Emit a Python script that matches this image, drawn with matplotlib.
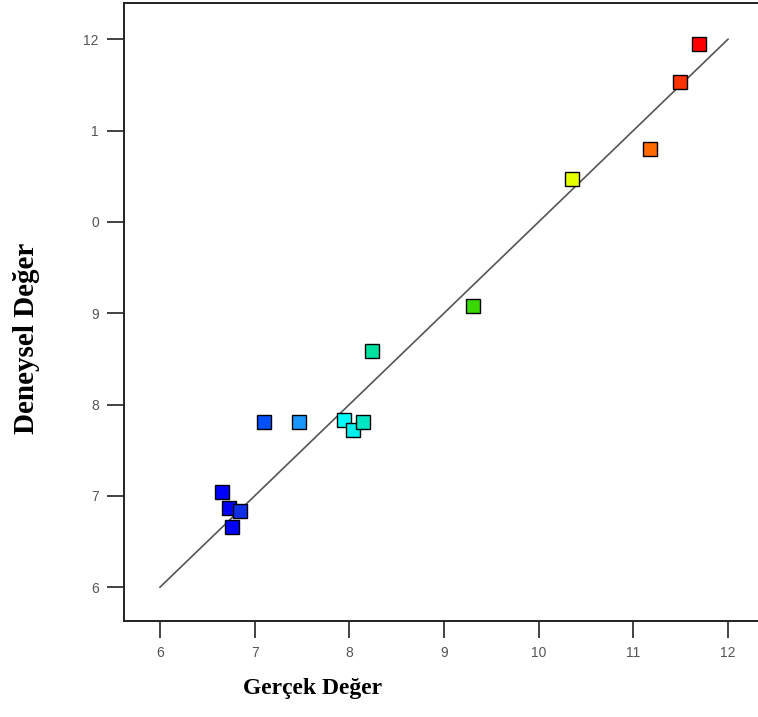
import matplotlib
matplotlib.use("Agg")
from matplotlib import pyplot as plt

gercek = [6.655, 6.73, 6.845, 6.76, 7.10, 7.47, 7.94, 8.04, 8.14, 8.24, 9.31, 10.35, 11.18, 11.49, 11.69]
deneysel = [7.04, 6.865, 6.83, 6.66, 7.81, 7.81, 7.83, 7.72, 7.81, 8.59, 9.08, 10.47, 10.80, 11.53, 11.95]
renkler = ["#0000ff", "#0000f5", "#1030e8", "#0000ff", "#0050ff", "#1a96ff", "#00ffff", "#00f0ee",
           "#00e6c4", "#00e0a0", "#38d800", "#e6ff00", "#ff6a00", "#ff3300", "#ff0000"]

tick_vals = [6, 7, 8, 9, 10, 11, 12]
x_tick_labels = ["6", "7", "8", "9", "10", "11", "12"]
y_tick_labels = ["6", "7", "8", "9", "0", "1", "12"]  # clipped as in the original
ref_line = [6, 12]

fig = plt.figure(figsize=(7.58, 7.17), dpi=100)
ax = fig.add_axes([124 / 758, 1 - 621 / 717, 1 - 124 / 758, 618 / 717])

ax.plot(ref_line, ref_line, color="#555555", lw=1.2, zorder=1)
for x, y, c in zip(gercek, deneysel, renkler):
    ax.plot(x, y, marker="s", markersize=9.5, color=c, markeredgecolor="black",
            markeredgewidth=1.0, linestyle="none", zorder=3)

ax.set_xlim(5.62, 5.62 + 634 / 94.67)
ax.set_ylim(5.63, 5.63 + 618 / 91.33)
ax.set_xticks(tick_vals)
ax.set_xticklabels(x_tick_labels)
ax.set_yticks(tick_vals)
ax.set_yticklabels(y_tick_labels)
ax.tick_params(direction="out", length=12, width=1.2, color="#222222", pad=6,
               labelsize=10, labelcolor="#555555")
for lab in ax.get_xticklabels() + ax.get_yticklabels():
    lab.set_fontfamily("Liberation Sans")

ax.spines["right"].set_visible(False)
for s in ["left", "bottom", "top"]:
    ax.spines[s].set_linewidth(1.4)
    ax.spines[s].set_color("#222222")

ax.set_xlabel("Gerçek Değer", fontfamily="Liberation Serif", fontweight="bold", fontsize=17)
ax.set_ylabel("Deneysel Değer", fontfamily="Liberation Serif", fontweight="bold", fontsize=21)
ax.xaxis.set_label_coords(0.298, -0.093)
ax.yaxis.set_label_coords(-0.132, 0.458)

fig.savefig("out.png", dpi=100)
